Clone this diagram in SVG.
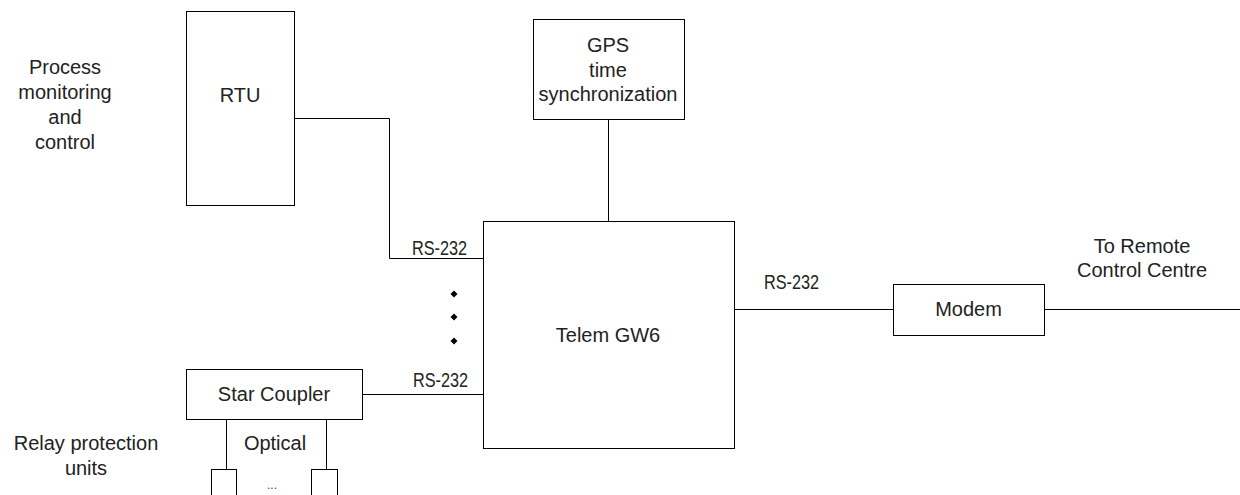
<svg xmlns="http://www.w3.org/2000/svg" width="1240" height="495" viewBox="0 0 1240 495">
<style>
.box{fill:#fff;stroke:#000;stroke-width:1}
.ln{fill:none;stroke:#000;stroke-width:1}
text{font-family:"Liberation Sans",Arial,sans-serif;font-size:20px;fill:#222;text-anchor:middle}
.rs{font-size:20px}
.ell{font-size:12px;fill:#444}
</style>
<rect width="1240" height="495" fill="#fff"/>
<g id="connectors">
<polyline class="ln" points="294.5,118.5 389.5,118.5 389.5,258.5 483.5,258.5"/>
<line class="ln" x1="608.5" y1="119.5" x2="608.5" y2="221.5"/>
<line class="ln" x1="362.5" y1="394.5" x2="483.5" y2="394.5"/>
<line class="ln" x1="734.5" y1="309.5" x2="893.5" y2="309.5"/>
<line class="ln" x1="1044.5" y1="309.5" x2="1240" y2="309.5"/>
<line class="ln" x1="226.5" y1="419.5" x2="226.5" y2="469.5"/>
<line class="ln" x1="326.5" y1="419.5" x2="326.5" y2="469.5"/>
<text class="rs" x="439.5" y="255" textLength="55" lengthAdjust="spacingAndGlyphs">RS-232</text>
<text class="rs" x="440.5" y="387" textLength="55" lengthAdjust="spacingAndGlyphs">RS-232</text>
<text class="rs" x="791.5" y="289" textLength="55" lengthAdjust="spacingAndGlyphs">RS-232</text>
<text x="275" y="450">Optical</text>
<g id="dots" fill="#000">
<polygon points="454,290.5 457.5,294 454,297.5 450.5,294"/>
<polygon points="454,313.5 457.5,317 454,320.5 450.5,317"/>
<polygon points="454,337.5 457.5,341 454,344.5 450.5,341"/>
</g>
</g>
<g id="label-process">
<text x="65" y="74">Process</text>
<text x="65" y="99">monitoring</text>
<text x="65" y="124">and</text>
<text x="65" y="149">control</text>
</g>
<g id="label-relay">
<text x="86" y="450">Relay protection</text>
<text x="86" y="475">units</text>
</g>
<g id="label-remote">
<text x="1142" y="253">To Remote</text>
<text x="1142" y="277">Control Centre</text>
</g>
<g id="rtu">
<rect class="box" x="186.5" y="11.5" width="108" height="194"/>
<text x="240" y="102">RTU</text>
</g>
<g id="gps">
<rect class="box" x="533.5" y="19.5" width="151" height="100"/>
<text x="608" y="52">GPS</text>
<text x="608" y="77">time</text>
<text x="608" y="101">synchronization</text>
</g>
<g id="telem">
<rect class="box" x="483.5" y="221.5" width="251" height="227"/>
<text x="608" y="342">Telem GW6</text>
</g>
<g id="modem">
<rect class="box" x="893.5" y="284.5" width="151" height="51"/>
<text x="968.5" y="316">Modem</text>
</g>
<g id="star-coupler">
<rect class="box" x="186.5" y="369.5" width="176" height="50"/>
<text x="274" y="401">Star Coupler</text>
</g>
<g id="relay1">
<rect class="box" x="211.5" y="469.5" width="25" height="40"/>
</g>
<g id="relay2">
<rect class="box" x="311.5" y="469.5" width="26" height="40"/>
</g>
<text class="ell" x="272" y="489">...</text>
</svg>
